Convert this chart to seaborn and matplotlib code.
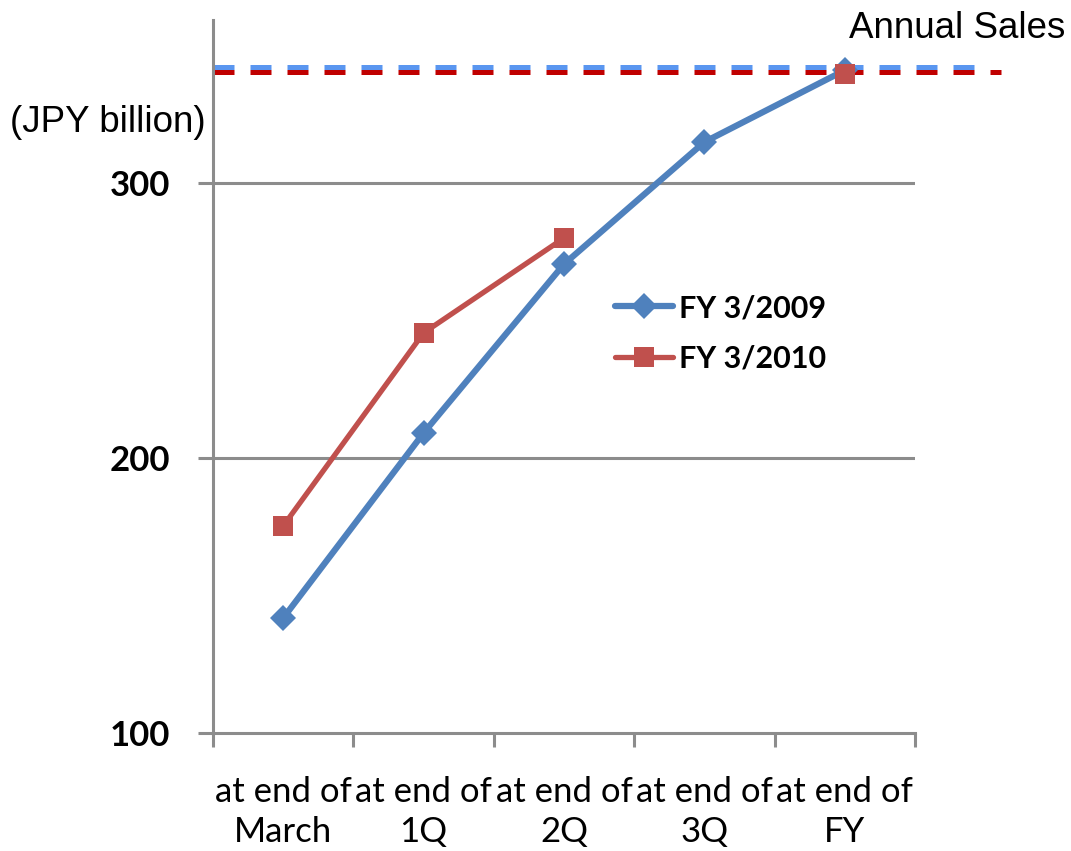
import matplotlib
matplotlib.use("Agg")
import matplotlib.pyplot as plt
import seaborn as sns
import numpy as np
import pandas as pd

# dados
periodos = ["at end of\nMarch", "at end of\n1Q", "at end of\n2Q", "at end of\n3Q", "at end of\nFY"]
fy2009 = [141.8, 209.1, 270.5, 314.9, 341.0]
fy2010 = [175.3, 245.5, 280.0, 339.5]          # March, 1Q, 2Q, FY
fy2010_periodos = [0, 1, 2, 4]
vendas_anuais = [342.0, 340.4]                  # linhas tracejadas (2009, 2010)
series = ["FY 3/2009", "FY 3/2010"]
yticks = [100, 200, 300]

AZUL = "#4F81BD"
VERMELHO = "#C0504D"
AZUL_TRACO = "#5A96F0"
VERMELHO_TRACO = "#C00000"
CINZA = "#8C8C8C"

sns.set_style("white")
plt.rcParams['font.family'] = ['Lato', 'DejaVu Sans']
plt.rcParams['text.color'] = 'black'
plt.rcParams['xtick.labelcolor'] = 'black'
plt.rcParams['ytick.labelcolor'] = 'black'

fig = plt.figure(figsize=(10.71, 8.51), dpi=100)
ax = fig.add_axes([213 / 1071, 1 - 733 / 851, 702 / 1071, 713 / 851])

df09 = pd.DataFrame({"x": np.arange(len(periodos)), "valor": fy2009})
df10 = pd.DataFrame({"x": fy2010_periodos[:3], "valor": fy2010[:3]})
df10_fy = pd.DataFrame({"x": fy2010_periodos[3:], "valor": fy2010[3:]})

# linhas tracejadas das vendas anuais (passam da area do grafico)
ax.axhline(vendas_anuais[0], xmin=0, xmax=1.105, color=AZUL_TRACO, lw=3.6,
           dashes=(4.2, 3.2), clip_on=False, zorder=2)
ax.axhline(vendas_anuais[1], xmin=0, xmax=1.122, color=VERMELHO_TRACO, lw=3.6,
           dashes=(4.2, 3.2), clip_on=False, zorder=2)

sns.lineplot(data=df09, x="x", y="valor", ax=ax, color=AZUL, lw=4.5,
             marker="D", markersize=13, markeredgewidth=0, label=series[0], zorder=3)
sns.lineplot(data=df10, x="x", y="valor", ax=ax, color=VERMELHO, lw=3.8,
             marker="s", markersize=14.5, markeredgewidth=0, label=series[1], zorder=4)
sns.lineplot(data=df10_fy, x="x", y="valor", ax=ax, color=VERMELHO, lw=0,
             marker="s", markersize=14.5, markeredgewidth=0, zorder=4)

ax.set_xlim(-0.5, len(periodos) - 0.5)
ax.set_ylim(100, 100 + 713 / 2.75)
ax.set_xlabel("")
ax.set_ylabel("")

# eixo y
ax.set_yticks(yticks)
ax.set_yticklabels([str(v) for v in yticks], fontsize=25, fontweight="bold")
ax.tick_params(axis="y", length=11, width=2.2, color=CINZA, pad=20, left=True)
for v in yticks[1:]:
    ax.axhline(v, color=CINZA, lw=2.2, zorder=1)

# eixo x: marcas nas fronteiras, rotulos no centro
ax.set_xticks(np.arange(len(periodos) + 1) - 0.5)
ax.set_xticklabels([])
ax.set_xticks(np.arange(len(periodos)), minor=True)
ax.set_xticklabels(periodos, minor=True, fontsize=25, fontweight="normal", linespacing=1.32)
ax.tick_params(axis="x", which="major", length=10, width=2.2, color=CINZA, bottom=True)
ax.tick_params(axis="x", which="minor", length=0, pad=31)

for lado in ["top", "right"]:
    ax.spines[lado].set_visible(False)
for lado in ["left", "bottom"]:
    ax.spines[lado].set_color(CINZA)
    ax.spines[lado].set_linewidth(2.2)

leg = ax.legend(loc="upper left", bbox_to_anchor=(615 / 1071, 1 - 294 / 851),
                bbox_transform=fig.transFigure, frameon=False, fontsize=22,
                handlelength=1.9, handletextpad=0.2, labelspacing=0.75,
                borderpad=0, borderaxespad=0)
for t in leg.get_texts():
    t.set_fontweight("bold")

fig.text(10 / 1071, 1 - 122 / 851, "(JPY billion)", fontsize=26.5,
         family="Liberation Sans", va="center", ha="left")
fig.text(1065 / 1071, 1 - 28 / 851, "Annual Sales", fontsize=26.5,
         family="Liberation Sans", va="center", ha="right")

plt.savefig("out.png", dpi=100)
